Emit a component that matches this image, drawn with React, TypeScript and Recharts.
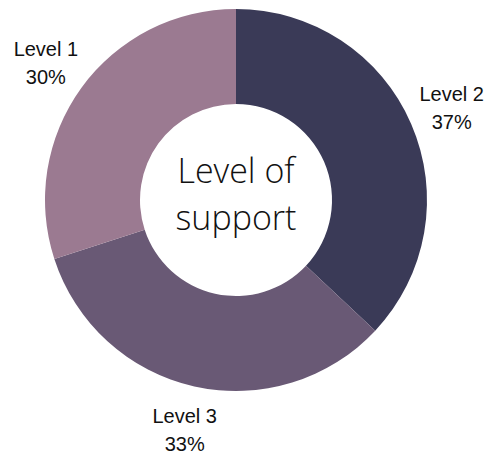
import { PieChart, Pie, Cell } from "recharts";

const levels = ["Level 2", "Level 3", "Level 1"];
const shares = [37, 33, 30];
const colors = ["#3a3a57", "#695975", "#9b7a91"];
const centerLines = ["Level of", "support"];

const data = levels.map((name, i) => ({ name, value: shares[i] }));

const RADIAN = Math.PI / 180;

function renderLabel(props: any) {
  const { cx, cy, midAngle, outerRadius, index } = props;
  const r = outerRadius + 44;
  const x = cx + r * Math.cos(-midAngle * RADIAN);
  const y = cy + r * Math.sin(-midAngle * RADIAN);
  return (
    <g>
      <text
        x={x}
        y={y}
        textAnchor="middle"
        fill="#111"
        fontFamily="'Liberation Sans', Arial, sans-serif"
        fontSize={20}
      >
        <tspan x={x} dy={-6}>{data[index].name}</tspan>
        <tspan x={x} dy={28}>{data[index].value}%</tspan>
      </text>
      {index === 0 && (
        <text
          x={cx}
          y={cy}
          textAnchor="middle"
          fill="#111"
          fontFamily="'Open Sans', sans-serif"
          fontWeight={300}
          fontSize={34}
        >
          <tspan x={cx} y={cy - 17}>{centerLines[0]}</tspan>
          <tspan x={cx} y={cy + 30}>{centerLines[1]}</tspan>
        </text>
      )}
    </g>
  );
}

export default function App() {
  return (
    <div style={{ position: "absolute", left: 0, top: 0, width: 490, height: 456, background: "#fff" }}>
      <PieChart width={490} height={456} margin={{ top: 0, right: 0, bottom: 0, left: 0 }}>
        <Pie
          data={data}
          dataKey="value"
          nameKey="name"
          cx={236}
          cy={200}
          innerRadius={96}
          outerRadius={191}
          startAngle={90}
          endAngle={-270}
          stroke="none"
          label={renderLabel}
          labelLine={false}
          isAnimationActive={false}
        >
          {data.map((d, i) => (
            <Cell key={d.name} fill={colors[i]} />
          ))}
        </Pie>
      </PieChart>
    </div>
  );
}
